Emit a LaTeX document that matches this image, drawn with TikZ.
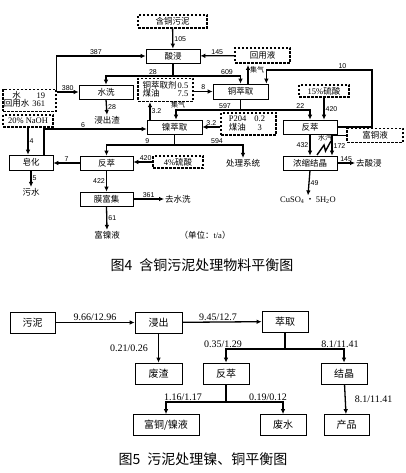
\documentclass[tikz,border=0pt]{standalone}
\usepackage{fontspec}
\setmainfont{Liberation Serif}
\newfontfamily\cjk{Noto Sans CJK SC}
\newfontfamily\arial{Liberation Sans}
\usetikzlibrary{arrows,arrows.meta}

\begin{document}
\begin{tikzpicture}[x=1pt,y=-1pt,>={Latex[length=5pt,width=4.6pt]},
                    flow/.style={line width=1.3pt}]
  \tikzstyle{box}=[draw=black,line width=0.7pt,minimum width=54pt,minimum height=14pt,inner sep=0pt,font=\fontsize{8.5}{10}\cjk]
  \tikzstyle{dbox}=[box,line width=1.5pt,dash pattern=on 2.5pt off 1.5pt]
  \tikzstyle{txt}=[inner sep=1pt,font=\fontsize{8.5}{10}\cjk]
  \tikzstyle{small}=[inner sep=1pt,font=\fontsize{7}{8}\cjk]
  \tikzstyle{num}=[inner sep=1pt,font=\fontsize{7}{8}\arial]
  \tikzstyle{boxv}=[draw=black,line width=0.8pt,minimum width=46pt,minimum height=21pt,inner sep=0pt,font=\fontsize{10}{12}\cjk]
  \tikzstyle{numv}=[inner sep=1pt,font=\fontsize{10}{12}\rmfamily]
  \tikzstyle{caption}=[inner sep=0pt,font=\fontsize{14}{16}\cjk]

  \useasboundingbox (0,0) rectangle (406,473);

  % figure 4
  \node[dbox,minimum width=69pt,minimum height=13pt] (slud)   at (172.5,21.5) {含铜污泥};
  \node[box]                                         (leach)  at (173,56)     {酸浸};
  \node[dbox,minimum width=55pt,minimum height=15pt] (recyc)  at (262.5,55.5) {回用液};
  \node[box]                                         (wash)   at (106,92)     {水洗};
  \node[dbox,minimum width=53pt,minimum height=22pt] (water)  at (29.5,100.5)
        {\begin{tabular}{@{}c@{\hspace{3pt}}r@{\hspace{10pt}}}水&{\rmfamily 19}\\[-2pt]回用水&{\rmfamily 361}\end{tabular}};
  \node[dbox,minimum width=55pt,minimum height=23pt] (cuagent) at (165.5,90)
        {\begin{tabular}{@{}l@{\hspace{1pt}}r@{}}铜萃取剂&{\rmfamily 0.5}\\[-2pt]煤油&{\rmfamily 7.5}\end{tabular}};
  \node[box,minimum width=55pt,minimum height=15pt]  (cuext)  at (240.5,91.5) {铜萃取};
  \node[dbox,minimum width=50pt,minimum height=12pt] (acid15) at (324,91)     {{\rmfamily 15\%}硫酸};
  \node[dbox,minimum width=50pt,minimum height=12pt] (naoh)   at (28,121)     {\rmfamily 20\% NaOH};
  \node[box,minimum width=55pt]                      (niext)  at (174.5,127)  {镍萃取};
  \node[dbox,minimum width=55pt,minimum height=22pt] (p204)   at (248.5,124)
        {\begin{tabular}{@{}l@{\hspace{8pt}}c@{\hspace{3pt}}}{\rmfamily P204}&{\rmfamily 0.2}\\[-2pt]煤油&{\rmfamily 3}\end{tabular}};
  \node[box]                                         (strpR)  at (310,127)    {反萃};
  \node[dbox,minimum width=56pt]                     (richcu) at (375,135.5)  {富铜液};
  \node[box,minimum width=44pt,minimum height=15pt]  (sapon)  at (31,162.5)   {皂化};
  \node[box,minimum width=53pt]                      (strpL)  at (106.5,163)  {反萃};
  \node[dbox,minimum width=50pt,minimum height=12pt] (acid4)  at (178,162)    {{\rmfamily 4\%}硫酸};
  \node[box]                                         (evap)   at (310,163)    {浓缩结晶};
  \node[box,minimum width=53pt]                      (memb)   at (106.5,199)  {膜富集};

  \node[txt]             (resid)   at (107,120) {浸出渣};
  \node[txt]             (treat)   at (243,163) {处理系统};
  \node[txt]             (waste)   at (31,192)  {污水};
  \node[txt,anchor=west] (towash)  at (164,199) {去水洗};
  \node[txt]             (nisol)   at (107,235) {富镍液};
  \node[txt,anchor=west] (toleach) at (355,163) {去酸浸};
  \node[txt]             (cuso)    at (308,200) {\rmfamily CuSO\textsubscript{4}\,{\cjk ・}\,5H\textsubscript{2}O};
  \node[txt]             (unit)    at (205,235) {（单位：{\rmfamily t/a}）};
  \node[small]           (gas1)    at (257,70)  {集气};
  \node[small]           (gas2)    at (178,105) {集气};
  \node[small]           (vapor)   at (325,138) {水汽};
  \coordinate (gastip) at (248,65);
  \coordinate (c10) at (372,70);
  \coordinate (lj) at (leach.south |- 0,76);
  \coordinate (cj) at (cuext.south |- 0,110);
  \coordinate (nj) at (niext.south |- 0,145);

  \draw[flow,->] (slud) -- (leach) node[num,midway,right] {105};
  \draw[flow,->] (recyc) -- (leach) node[num,midway,above] {145};
  \draw[flow,->] (water.east |- wash.west) -- (wash.west) node[num,midway,above] {380};
  \draw[flow,->] (water.east |- wash.west) |- (leach.west) node[num,pos=0.72,above] {387};
  \draw[flow] (leach.south) -- (lj);
  \draw[flow,->] (lj) -| (wash.north) node[num,pos=0.15,above] {28};
  \draw[flow,->] (lj) -| (cuext.north) node[num,pos=0.4,above] {609};
  \draw[flow,->] (wash.south) -- (resid.north) node[num,midway,right] {28};
  \draw[flow,->] (cuagent.east |- cuext.west) -- (cuext.west) node[num,midway,above] {8};
  \draw[flow,->] ([xshift=7.5pt]cuext.north) -- (gastip);
  \draw[flow,->] (strpR.east) -| (c10) -| ([xshift=-2pt]cuext.north east) node[num,pos=0.14,above] {10};
  \draw[flow] (cuext.south) -- (cj);
  \draw[flow,->] (cj) -| ([xshift=1.5pt]niext.north) node[num,pos=0.12,above] {597};
  \draw[flow,->] (cj) -| (strpR.north) node[num,pos=0.43,above] {22};
  \draw[flow,->] (acid15.south) -- (acid15.south |- strpR.north) node[num,midway,right] {420};
  \draw[flow,->] ([xshift=-24.5pt]niext.north) -- ([xshift=-24.5pt]niext.north |- cuagent.south) node[num,midway,right] {3.2};
  \draw[flow,->] (p204.west |- niext.east) -- (niext.east) node[num,midway,above] {3.2};
  \draw[flow] (niext.south) -- (nj);
  \draw[flow,->] (nj) -| (strpL.north) node[num,pos=0.2,above] {9};
  \draw[flow,->] (nj) -| (treat.north) node[num,pos=0.31,above] {594};
  \draw[flow,->] (acid4.west) -- (acid4.west -| strpL.east) node[num,pos=0.35,above] {420};
  \draw[flow,->] (naoh.south) -- (naoh.south |- sapon.north) node[num,midway,right] {4};
  \draw[flow,->] ([xshift=13pt]sapon.north) |- ([yshift=-2pt]niext.west) node[num,pos=0.69,above] {6};
  \draw[flow,->] (strpL.west) -- (strpL.west -| sapon.east) node[num,midway,above] {7};
  \draw[flow,->] (sapon.south) -- (waste.north) node[num,midway,right] {5};
  \draw[flow,->] (strpL.south) -- (memb.north) node[num,midway,left] {422};
  \draw[flow,->] (memb.east) -- (towash.west) node[num,midway,above] {361};
  \draw[flow,->] (memb.south) -- (nisol.north) node[num,midway,right] {61};
  \draw[flow,->] (strpR.south) -- (evap.north) node[num,midway,left] {432};
  \draw[flow,->] (richcu.west) -| ([xshift=22pt]evap.north) node[num,pos=0.75,right] {172};
  \draw[flow,->] (evap.east) -- (toleach.west) node[num,midway,above] {145};
  \draw[flow,->] (evap.south) -- (cuso.north) node[num,midway,right] {49};
  \draw[line width=1.4pt] (317,155) -- (324,145) -- (325.5,151) -- (331,141);

  \node[caption] (cap4) at (202,265) {图4\hspace{0.5em}含铜污泥处理物料平衡图};

  % figure 5
  \node[boxv,minimum width=45pt] (sludge) at (32.5,322.5) {污泥};
  \node[boxv,minimum width=47pt] (leachv) at (158.5,322.5) {浸出};
  \node[boxv,minimum width=47pt] (residv) at (158.5,373.5) {废渣};
  \node[boxv]                    (extrv)  at (285,321.5)   {萃取};
  \node[boxv]                    (stripv) at (226,373.5)   {反萃};
  \node[boxv]                    (crystv) at (344,373.5)   {结晶};
  \node[boxv,minimum width=66pt] (richv)  at (166,425)     {富铜/镍液};
  \node[boxv]                    (wwv)    at (283,425)     {废水};
  \node[boxv,minimum width=45pt] (prodv)  at (346.5,425)   {产品};
  \coordinate (ej) at (extrv.south |- 0,349);
  \coordinate (sj) at (stripv.south |- 0,402);

  \draw[flow,->] (sludge) -- (leachv) node[numv,midway,above] {9.66/12.96};
  \draw[flow,->] (leachv) -- (residv) node[numv,midway,left=9pt] {0.21/0.26};
  \draw[flow,->] (leachv) -- (extrv) node[numv,pos=0.45,above] {9.45/12.7};
  \draw[flow] (extrv.south) -- (ej);
  \draw[flow,->] (ej) -| (stripv.north) node[numv,pos=0.5,above,xshift=-3pt] {0.35/1.29};
  \draw[flow,->] (ej) -| (crystv.north) node[numv,pos=0.5,above,xshift=-4pt] {8.1/11.41};
  \draw[flow,->] (crystv) -- (prodv) node[numv,midway,right=8pt] {8.1/11.41};
  \draw[flow] (stripv.south) -- (sj);
  \draw[flow,->] (sj) -| (richv.north) node[numv,pos=0.5,above,xshift=17pt] {1.16/1.17};
  \draw[flow,->] (sj) -| (wwv.north) node[numv,pos=0.5,above,xshift=-15pt] {0.19/0.12};

  \node[caption] (cap5) at (203,459) {图5\hspace{0.5em}污泥处理镍、铜平衡图};
\end{tikzpicture}
\end{document}
